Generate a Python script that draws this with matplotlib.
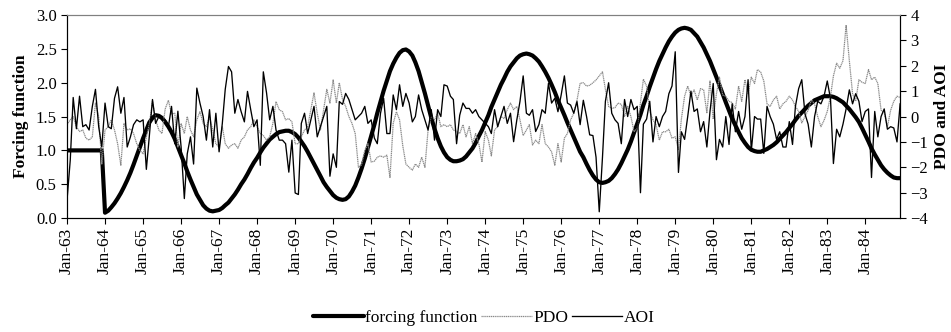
import matplotlib
matplotlib.use("Agg")
import matplotlib.pyplot as plt
import matplotlib.dates as mdates
import pandas as pd

# monthly series, Jan-63 .. Dec-84
months = pd.date_range("1963-01-01", periods=264, freq="MS")

forcing = [
    1.0, 1.0, 1.0, 1.0, 1.0, 1.0, 1.0, 1.0, 1.0, 1.0, 1.0, 1.0,
    0.08, 0.11, 0.16, 0.22, 0.29, 0.37, 0.46, 0.56, 0.67, 0.79, 0.92, 1.05,
    1.18, 1.30, 1.41, 1.48, 1.52, 1.51, 1.48, 1.42, 1.35, 1.27, 1.17, 1.05,
    0.93, 0.81, 0.69, 0.57, 0.46, 0.35, 0.27, 0.19, 0.14, 0.11, 0.10, 0.11,
    0.12, 0.15, 0.19, 0.23, 0.29, 0.35, 0.42, 0.50, 0.57, 0.65, 0.74, 0.82,
    0.89, 0.97, 1.04, 1.10, 1.16, 1.20, 1.24, 1.27, 1.28, 1.29, 1.29, 1.27,
    1.24, 1.19, 1.13, 1.06, 0.98, 0.89, 0.80, 0.71, 0.62, 0.53, 0.46, 0.40,
    0.34, 0.30, 0.28, 0.27, 0.28, 0.32, 0.39, 0.48, 0.60, 0.73, 0.88, 1.04,
    1.21, 1.38, 1.55, 1.72, 1.88, 2.03, 2.17, 2.28, 2.37, 2.44, 2.48, 2.49,
    2.46, 2.40, 2.30, 2.17, 2.01, 1.84, 1.66, 1.48, 1.32, 1.18, 1.06, 0.97,
    0.90, 0.86, 0.84, 0.84, 0.85, 0.87, 0.91, 0.97, 1.03, 1.11, 1.21, 1.30,
    1.41, 1.52, 1.64, 1.75, 1.86, 1.97, 2.06, 2.16, 2.24, 2.30, 2.36, 2.40,
    2.42, 2.43, 2.42, 2.40, 2.36, 2.31, 2.24, 2.16, 2.07, 1.97, 1.86, 1.74,
    1.63, 1.52, 1.41, 1.30, 1.19, 1.08, 0.98, 0.90, 0.80, 0.71, 0.63, 0.57,
    0.53, 0.52, 0.53, 0.55, 0.59, 0.65, 0.72, 0.81, 0.91, 1.01, 1.13, 1.26,
    1.39, 1.53, 1.67, 1.80, 1.94, 2.07, 2.20, 2.32, 2.42, 2.52, 2.61, 2.68,
    2.74, 2.78, 2.80, 2.81, 2.80, 2.78, 2.73, 2.68, 2.60, 2.52, 2.42, 2.32,
    2.20, 2.08, 1.96, 1.83, 1.71, 1.59, 1.47, 1.37, 1.27, 1.18, 1.11, 1.05,
    1.01, 0.99, 0.98, 0.98, 1.00, 1.02, 1.05, 1.08, 1.12, 1.17, 1.22, 1.27,
    1.33, 1.39, 1.45, 1.51, 1.56, 1.61, 1.66, 1.70, 1.74, 1.76, 1.78, 1.80,
    1.80, 1.80, 1.79, 1.77, 1.74, 1.71, 1.66, 1.61, 1.55, 1.49, 1.42, 1.33,
    1.23, 1.13, 1.03, 0.94, 0.86, 0.78, 0.72, 0.67, 0.63, 0.60, 0.59, 0.59,
]

pdo = [
    -0.32, -0.13, 0.00, -0.40, -0.59, -0.53, -0.85, -0.93, -0.80, 0.53, 0.00, -1.87,
    -0.53, -0.40, -0.13, -0.53, -1.07, -1.92, -0.27, -0.53, -0.48, -0.67, -1.07, -1.33,
    -1.47, -0.80, -0.32, 0.60, -0.13, -0.53, -0.67, 0.30, 0.64, 0.10, 0.13, -1.20,
    -0.27, -0.67, 0.00, -0.53, -0.80, -0.13, 0.19, -0.27, -0.40, 0.00, -0.53, -1.07,
    -1.20, -0.40, -1.07, -1.25, -1.12, -1.07, -1.25, -0.93, -0.80, -0.53, -0.40, -0.13,
    -0.40, -0.67, -0.75, -0.93, -0.80, -0.27, 0.59, 0.27, 0.19, -0.13, -0.08, -0.21,
    -1.07, -1.07, -0.80, -0.53, -0.40, 0.27, 0.93, 0.13, -0.53, 0.27, 1.07, 0.53,
    1.44, 0.53, 1.33, 0.67, 0.40, 0.00, -0.27, -0.67, -2.00, -1.90, -1.33, -1.07,
    -1.79, -1.76, -1.60, -1.55, -1.60, -1.52, -2.40, -0.27, 0.19, -0.13, -1.15, -1.87,
    -2.00, -2.11, -1.87, -2.00, -1.60, -2.00, -0.53, 0.00, -0.13, 0.13, -0.40, -0.32,
    -0.40, -0.32, -0.53, -0.59, -0.67, -0.32, -0.80, -0.40, -1.07, -0.67, -1.07, -1.79,
    -0.59, -0.93, -1.55, -0.53, -0.40, 0.00, -0.08, 0.27, 0.53, 0.27, 0.40, -0.13,
    -0.75, -0.53, -0.32, -1.12, -0.93, -1.07, -0.32, -1.07, -1.20, -1.39, -1.92, -1.07,
    -1.79, -0.85, -0.67, -0.13, 0.13, 0.64, 1.31, 1.33, 1.20, 1.23, 1.33, 1.44,
    1.60, 1.76, 1.07, 0.40, 0.32, 0.35, 0.53, 0.48, 0.00, 0.40, 0.00, -0.59,
    -0.48, 0.53, 1.47, 1.20, 0.21, -0.13, -0.32, -0.93, -0.60, -0.60, -0.50, -0.85,
    -0.80, -1.30, -0.10, 0.80, 1.20, 0.80, 1.05, 0.65, 1.10, 1.05, 0.15, 1.40,
    -0.10, 0.90, 1.55, 0.85, 0.80, 0.60, 0.55, 0.30, 1.20, 0.60, 1.45, 0.90,
    1.55, 1.30, 1.85, 1.75, 1.40, 0.50, 0.40, 0.65, 0.80, 0.30, 0.50, 0.60,
    0.80, 0.65, 0.40, 0.20, -0.25, 0.00, 0.25, 0.65, 0.50, 0.00, -0.40, -0.15,
    0.20, 0.80, 1.60, 2.10, 1.90, 2.20, 3.60, 2.20, 0.90, 0.60, 1.45, 1.35,
    1.30, 1.85, 1.45, 1.55, 1.30, 0.25, 0.15, -0.40, 0.25, 0.60, 0.80, 0.75,
]

aoi = [
    -3.28, -1.71, 0.75, -0.48, 0.80, -0.40, -0.32, -0.53, 0.40, 1.07, -0.40, -1.20,
    0.53, -0.40, -0.48, 0.72, 1.17, 0.13, 0.75, -1.20, -0.80, -0.32, -0.13, -0.21,
    -0.13, -2.08, -0.80, 0.67, -0.27, 0.00, -0.13, -0.13, -0.40, 0.40, -1.07, 0.21,
    -1.20, -3.23, -1.47, -0.80, -1.87, 1.12, 0.53, 0.00, -0.93, 0.27, -1.20, 0.13,
    -1.39, -0.27, 1.07, 1.97, 1.76, 0.13, 0.67, 0.19, -0.21, 0.99, 0.27, -0.40,
    -0.13, -1.92, 1.76, 0.93, -0.13, 0.40, -0.53, -0.93, -0.93, -1.07, -2.19, -0.93,
    -3.01, -3.07, -0.27, 0.13, -0.67, -0.13, 0.40, -0.80, -0.40, 0.00, 0.40, -2.35,
    -1.47, -2.00, 0.59, 0.48, 0.91, 0.67, 0.27, -0.13, 0.00, 0.13, 0.40, -0.27,
    -0.13, -0.85, -1.07, 0.13, 0.72, -0.67, -0.67, 0.85, 0.27, 1.25, 0.40, 0.91,
    0.53, -0.21, 0.00, 0.85, 0.27, -0.13, -0.53, 0.27, -0.93, 0.27, 0.00, 1.25,
    1.20, 0.80, 0.67, -1.07, 0.05, 0.53, 0.32, 0.32, 0.13, 0.27, 0.00, -0.13,
    -0.27, -0.40, -0.67, 0.27, -0.40, 0.00, 0.40, -0.27, 0.13, -0.99, -0.13, 0.59,
    1.60, 0.13, 0.05, 0.27, -0.59, -0.32, 0.27, 0.13, 1.31, 0.53, 0.72, 0.19,
    0.85, 1.60, 0.53, 0.45, 0.13, 0.59, -0.32, 0.64, 0.00, -0.72, -0.75, -1.60,
    -3.75, -1.60, 0.60, 1.33, 0.13, -0.13, -0.27, -1.07, 0.67, 0.00, 0.67, 0.27,
    0.40, -3.00, -0.30, -0.10, 0.60, -1.00, 0.00, -0.40, 0.00, 0.20, 0.90, 1.20,
    2.55, -2.20, -0.60, -0.90, 0.00, 1.00, 0.20, 0.30, -0.60, -0.20, -1.20, 0.20,
    1.30, -1.70, -0.90, -1.20, 0.00, -1.10, 0.50, -0.60, 0.20, -0.50, 0.00, 1.45,
    -1.35, 0.00, -0.10, -0.10, -1.45, 0.40, 0.00, -0.30, -0.90, -0.60, -1.20, -1.20,
    -0.20, -1.10, 0.40, 1.10, 1.45, 0.10, -0.30, -1.20, 0.00, 0.60, 0.50, 0.80,
    1.40, 0.70, -1.85, -0.50, -0.80, -0.30, 0.30, 1.05, 0.50, 0.90, 0.60, -0.20,
    0.20, 0.30, -2.40, 0.20, -0.80, 0.00, 0.30, -0.50, -0.40, -0.45, -1.00, 0.50,
]

left_ticks = [0.0, 0.5, 1.0, 1.5, 2.0, 2.5, 3.0]
right_ticks = [-4, -3, -2, -1, 0, 1, 2, 3, 4]

plt.rcParams["font.family"] = ["Liberation Serif", "DejaVu Serif"]

fig = plt.figure(figsize=(9.51, 3.32), dpi=100)
ax = fig.add_axes([0.0705, 0.343, 0.876, 0.612])
ax2 = ax.twinx()

l1, = ax.plot(months, forcing, color="black", lw=3.0, solid_capstyle="round",
              label="forcing function")
l2, = ax2.plot(months, pdo, color="#8a8a8a", lw=0.9, linestyle=(0, (1, 0.5)),
               label="PDO")
l3, = ax2.plot(months, aoi, color="black", lw=0.95, label="AOI")

ax.set_xlim(months[0], months[-1])
ax.set_ylim(0, 3)
ax2.set_ylim(-4, 4)
ax.set_yticks(left_ticks)
ax.set_yticklabels([f"{t:.1f}" for t in left_ticks])
ax2.set_yticks(right_ticks)

ax.xaxis.set_major_locator(mdates.MonthLocator(bymonth=1))
ax.xaxis.set_major_formatter(mdates.DateFormatter("%b-%y"))
for lab in ax.get_xticklabels():
    lab.set_rotation(90)

ax.tick_params(axis="both", direction="out", length=4, labelsize=12, width=0.8)
ax.tick_params(axis="x", labelsize=12.5, pad=3)
ax2.tick_params(axis="y", direction="out", length=4, labelsize=12, width=0.8)

ax.set_ylabel("Forcing function", fontsize=12.5, fontweight="bold", labelpad=5)
ax2.set_ylabel("PDO and AOI", fontsize=12.5, fontweight="bold", labelpad=4)

for a in (ax, ax2):
    a.spines["top"].set_color("#808080")
    a.spines["top"].set_linewidth(0.8)
    for s in ("left", "right", "bottom"):
        a.spines[s].set_linewidth(0.8)

fig.legend(handles=[l1, l2, l3], loc="center", bbox_to_anchor=(0.509, 0.042),
           ncol=3, frameon=False, fontsize=12.5, handlelength=2.9,
           handletextpad=0.1, columnspacing=0.2)

fig.savefig("out.png", dpi=100)
